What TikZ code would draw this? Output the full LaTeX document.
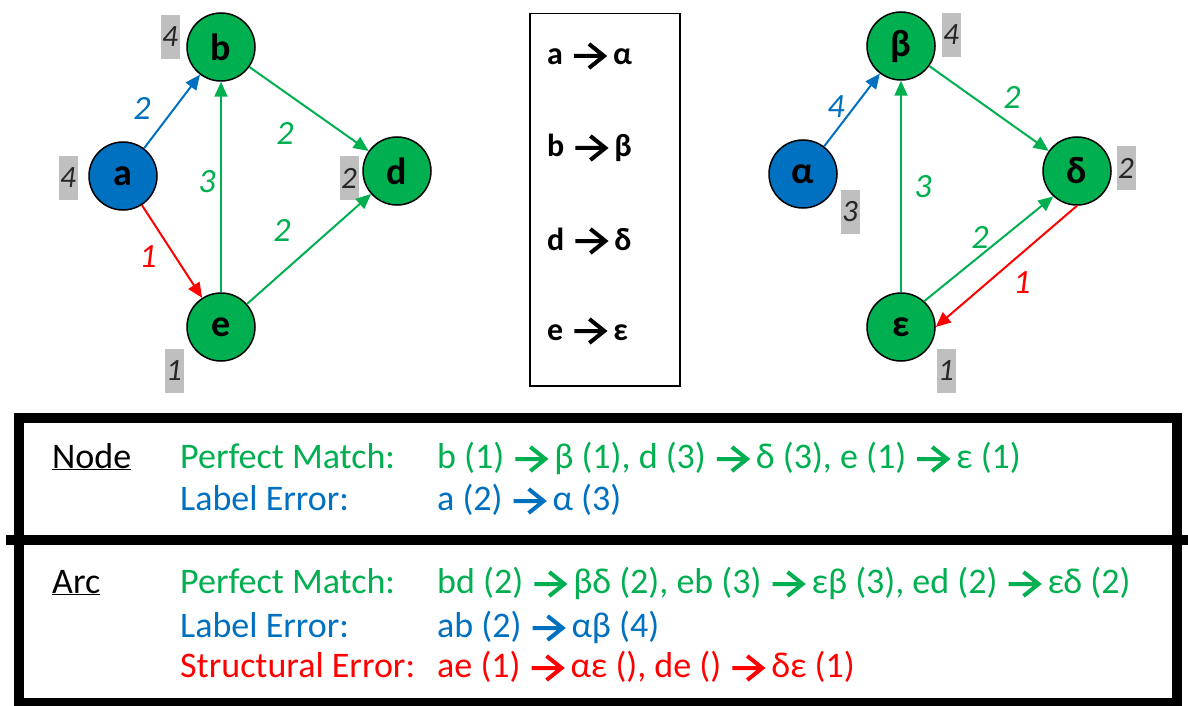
\documentclass[tikz,border=0pt]{standalone}
\usepackage{fontspec}
\setmainfont{Carlito}
\usetikzlibrary{arrows.meta}
\definecolor{ogreen}{HTML}{00B050}
\definecolor{oblue}{HTML}{0070C0}
\definecolor{ored}{HTML}{FF0000}
\definecolor{lgray}{HTML}{BFBFBF}
\newcommand{\warr}{\tikz[baseline=0pt]\draw[line width=4pt, line cap=butt, line join=miter] (0pt,9pt) -- (30pt,9pt) (15pt,21pt) -- (30pt,9pt) -- (15pt,-3pt);}
\newcommand{\ta}{\hspace{9pt}\warr\hspace{7pt}}
\begin{document}
\begin{tikzpicture}[x=1pt,y=-1pt,
  gnode/.style={circle, draw=black, line width=1.5pt, minimum size=68pt, inner sep=0pt, font=\fontsize{38}{40}\selectfont\bfseries},
  gn/.style={gnode, fill=ogreen},
  bn/.style={gnode, fill=oblue},
  wlab/.style={fill=lgray, inner sep=0pt, minimum width=19pt, minimum height=44pt, font=\fontsize{31}{34}\selectfont\itshape, text=black!85},
  elab/.style={font=\fontsize{34}{38}\selectfont\itshape, inner sep=0pt},
  edge/.style={line width=2pt, -{Triangle[length=15pt,width=13pt]}},
  maptxt/.style={anchor=base west, inner sep=0pt, font=\fontsize{32}{34}\selectfont\bfseries},
  ttxt/.style={anchor=base west, inner sep=0pt, font=\fontsize{36}{40}\selectfont},
  frame/.style={draw=black, line width=10pt}
]
\useasboundingbox (0,0) rectangle (1188,706);
\fill[white] (0,0) rectangle (1188,706);

% left graph
\node[bn] (a) at (123,176) {a};
\node[gn] (b) at (221,47) {b};
\node[gn] (d) at (397,171) {d};
\node[gn] (e) at (221,327) {e};
\node[wlab] (wa) at (68,178) {4};
\node[wlab] (wb) at (170,37) {4};
\node[wlab] (wd) at (349,178) {2};
\node[wlab] (we) at (174,371) {1};
\draw[edge, oblue] (a) -- (b);
\draw[edge, ored] (a) -- (e);
\draw[edge, ogreen] (e) -- (b);
\draw[edge, ogreen] (b) -- (d);
\draw[edge, ogreen] (e) -- (d);
\node[elab, text=oblue] (lab) at (142,108) {2};
\node[elab, text=ogreen] (lbd) at (285,133) {2};
\node[elab, text=ogreen] (leb) at (207,182) {3};
\node[elab, text=ogreen] (led) at (282,230) {2};
\node[elab, text=ored] (lae) at (148,257) {1};

% right graph
\node[bn] (al) at (803,174) {α};
\node[gn] (be) at (901,46) {β};
\node[gn] (de) at (1077,171) {δ};
\node[gn] (ep) at (901,327) {ε};
\node[wlab] (wal) at (850,212) {3};
\node[wlab] (wbe) at (951,35) {4};
\node[wlab] (wde) at (1126,168) {2};
\node[wlab] (wep) at (946,371) {1};
\draw[edge, oblue] (al) -- (be);
\draw[edge, ogreen] (be) -- (de);
\draw[edge, ogreen] (ep) -- (be);
\draw[edge, ogreen] (ep.48) -- (de.227);
\draw[edge, ored] (de.-90) -- (ep.0);
\node[elab, text=oblue] (lalbe) at (836,107) {4};
\node[elab, text=ogreen] (lbede) at (1012,97) {2};
\node[elab, text=ogreen] (lepbe) at (923,187) {3};
\node[elab, text=ogreen] (lepde) at (980,237) {2};
\node[elab, text=ored] (ldeep) at (1022,283) {1};

% mapping box
\node[draw=black, line width=1.5pt, minimum width=150pt, minimum height=372pt, anchor=north west, inner sep=0pt] (map) at (529,13) {};
\node[maptxt] (m1) at (547,65) {a\ta α};
\node[maptxt] (m2) at (547,157) {b\ta β};
\node[maptxt] (m3) at (547,250) {d\ta δ};
\node[maptxt] (m4) at (547,340) {e\ta ε};

% table
\draw[frame] (19,418) rectangle (1177,703);
\draw[frame] (6,540) -- (1188,540);
\node[ttxt] (tn) at (52,468) {\underline{Node}};
\node[ttxt, text=ogreen] (tn1) at (180,468) {Perfect Match:};
\node[ttxt, text=oblue] (tn2) at (180,510) {Label Error:};
\node[ttxt, text=ogreen] (vn1) at (437,468) {b (1)\ta β (1), d (3)\ta δ (3), e (1)\ta ε (1)};
\node[ttxt, text=oblue] (vn2) at (437,510) {a (2)\ta α (3)};
\node[ttxt] (ta) at (52,593) {\underline{Arc}};
\node[ttxt, text=ogreen] (ta1) at (180,593) {Perfect Match:};
\node[ttxt, text=oblue] (ta2) at (180,637) {Label Error:};
\node[ttxt, text=ored] (ta3) at (180,677) {Structural Error:};
\node[ttxt, text=ogreen] (va1) at (437,593) {bd (2)\ta βδ (2), eb (3)\ta εβ (3), ed (2)\ta εδ (2)};
\node[ttxt, text=oblue] (va2) at (437,637) {ab (2)\ta αβ (4)};
\node[ttxt, text=ored] (va3) at (437,677) {ae (1)\ta αε (), de ()\ta δε (1)};
\end{tikzpicture}
\end{document}
